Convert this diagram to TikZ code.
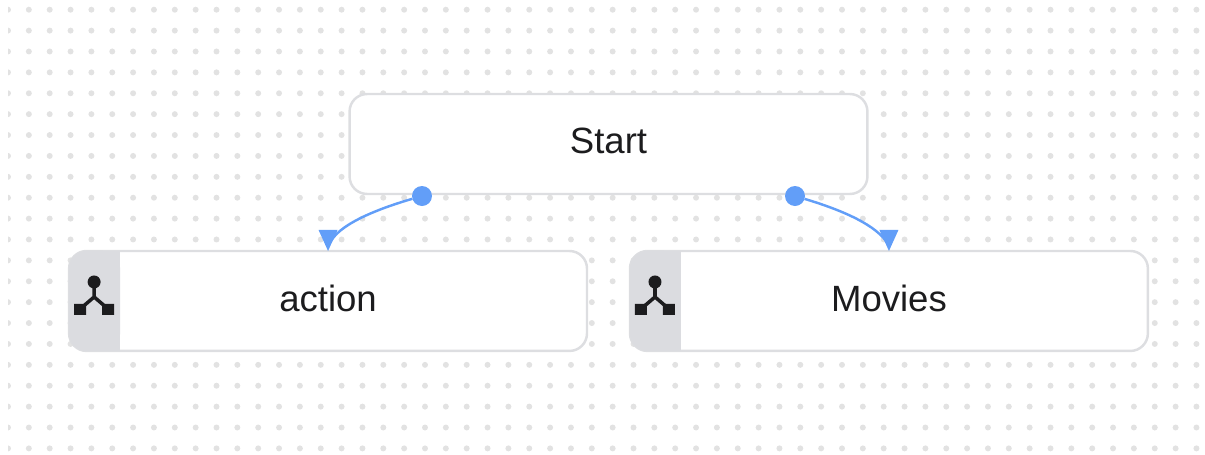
\documentclass[tikz,border=0pt]{standalone}
\usepackage{fontspec}
\setmainfont{Liberation Sans}
\usetikzlibrary{positioning,arrows.meta}
\definecolor{dotgray}{HTML}{E2E2E2}
\definecolor{boxline}{HTML}{DDDEE1}
\definecolor{tabgray}{HTML}{DBDCE0}
\definecolor{flowblue}{HTML}{629EF8}
\definecolor{inkblack}{HTML}{1C1C1E}
\tikzset{
  flowbox/.style={draw=boxline,line width=1.4pt,fill=white,rounded corners=10pt,
    minimum width=10.36cm,minimum height=2cm,outer sep=0pt},
  flowlabel/.style={text=inkblack,yshift=1.7pt,font=\fontsize{20.8}{24}\selectfont},
  flowport/.style={circle,fill=flowblue,minimum size=0.4cm,inner sep=0pt,outer sep=0pt},
  flowcurve/.style={flowblue,line width=1.4pt},
  flowtip/.style={flowblue,line width=0.2pt,-{Triangle[length=0.42cm,width=0.38cm,sep=0pt,line width=0pt]}}
}
\newcommand{\forktab}[1]{
  \fill[tabgray,rounded corners=10pt] (#1.north west) -- (#1.south west) -- ++(51,0) -- ++(0,-100) -- cycle;
  \fill[tabgray] ([xshift=0.5cm]#1.north west) rectangle ([xshift=1.02cm]#1.south west);
  \begin{scope}[shift={(#1.west)}]
    \draw[inkblack,line width=2pt] (25,-13) -- (25,-4) (11,8) -- (25,-4) -- (39,8);
    \fill[inkblack] (25,-19) circle (6.5);
    \fill[inkblack] (5,3) rectangle +(12,11) (33,3) rectangle +(12,11);
  \end{scope}
}
\begin{document}
\begin{tikzpicture}[on grid,x=0.02cm,y=-0.02cm]
  \useasboundingbox (0,0) rectangle (1205,454);
  \begin{scope}
    \clip (8,0) rectangle (1205,454);
    \foreach \i in {0,...,57}
      \foreach \j in {0,...,21}
        \fill[dotgray] (8+20.85*\i,9.7+20.89*\j) circle (3);
  \end{scope}
  \node[flowbox] (start) at (608.5,144) {};
  \node[flowbox,below left=3.14cm and 5.61cm of start] (action) {};
  \node[flowbox,below right=3.14cm and 5.61cm of start] (movies) {};
  \forktab{action}
  \forktab{movies}
  \node[flowlabel] (startlabel) at (start.center) {Start};
  \node[flowlabel] (actionlabel) at (action.center) {action};
  \node[flowlabel] (movieslabel) at (movies.center) {Movies};
  \node[flowport] (leftport) at (422,196) {};
  \node[flowport] (rightport) at (795,196) {};
  \coordinate (actiontop) at ([yshift=0.42cm]action.north);
  \coordinate (moviestop) at ([yshift=0.42cm]movies.north);
  \coordinate (actionin) at ([xshift=0.06cm,yshift=0.2cm]action.north);
  \coordinate (moviesin) at ([xshift=-0.06cm,yshift=0.2cm]movies.north);
  \draw[flowcurve] (leftport) .. controls (384,207) and (342,222) .. (actionin);
  \draw[flowcurve] (rightport) .. controls (835,208) and (872,222) .. (moviesin);
  \draw[flowtip] (actiontop) -- (action.north);
  \draw[flowtip] (moviestop) -- (movies.north);
\end{tikzpicture}
\end{document}
